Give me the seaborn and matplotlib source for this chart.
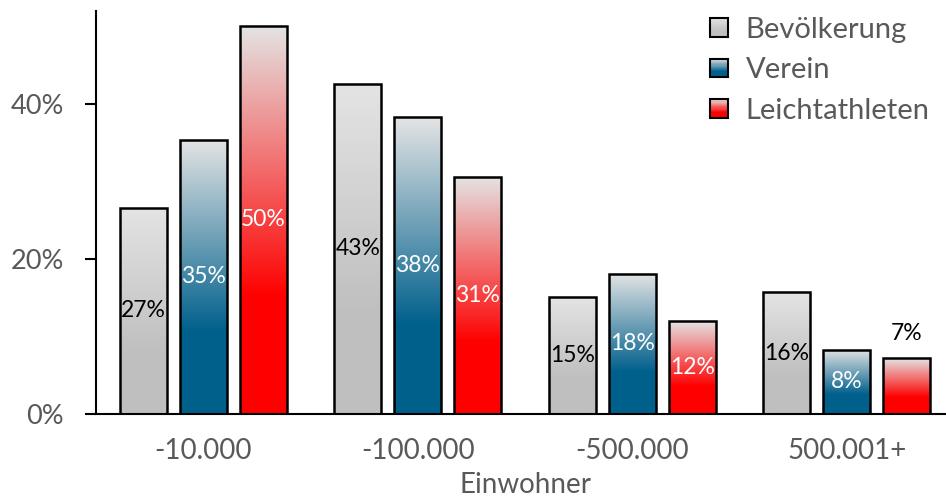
import numpy as np
import pandas as pd
import matplotlib
matplotlib.use('Agg')
import matplotlib.pyplot as plt
import matplotlib.colors as mcolors
from matplotlib.patches import Rectangle, Patch
from matplotlib.legend_handler import HandlerBase
import seaborn as sns

# Data (share in %)
categories = ['-10.000', '-100.000', '-500.000', '500.001+']
series = ['Bevölkerung', 'Verein', 'Leichtathleten']
bevoelkerung = [26.6, 42.6, 15.1, 15.7]
verein = [35.4, 38.3, 18.1, 8.3]
leichtathleten = [50.1, 30.6, 12.0, 7.2]

colors = ['#bfbfbf', '#00608c', '#ff0000']
label_colors = ['black', 'white', 'white']
top_color = np.array(mcolors.to_rgb('#e4e4e4'))
grey_text = '#595959'

sns.set_style('white')
plt.rcParams['font.family'] = ['Lato', 'DejaVu Sans']

df = pd.DataFrame({
    'Einwohner': categories * 3,
    'Anteil': bevoelkerung + verein + leichtathleten,
    'Gruppe': [s for s in series for _ in categories],
})


def gradient_color(base, t):
    """t = 0 at bottom, 1 at top; solid bottom ~30%, then fade to light grey"""
    base = np.array(mcolors.to_rgb(base))
    f = np.clip((t - 0.3) / 0.7, 0, 1)
    return base * (1 - f) + top_color * f


class GradientHandler(HandlerBase):
    def create_artists(self, legend, orig_handle, xdescent, ydescent,
                       width, height, fontsize, trans):
        c = orig_handle.get_facecolor()
        n = 16
        arts = []
        for i in range(n):
            t = (i + 0.5) / n
            arts.append(Rectangle((-xdescent, -ydescent + height * i / n), width, height / n,
                                  facecolor=gradient_color(c, t), edgecolor='none',
                                  transform=trans))
        arts.append(Rectangle((-xdescent, -ydescent), width, height, facecolor='none',
                              edgecolor='black', lw=1.5, transform=trans))
        return arts


fig = plt.figure(figsize=(9.46, 4.97), dpi=100)
ax = fig.add_axes([96 / 946, 83 / 497, 858 / 946, 403 / 497])

sns.barplot(data=df, x='Einwohner', y='Anteil', hue='Gruppe', palette=colors,
            width=0.84, gap=0.22, edgecolor='black', linewidth=1.8,
            legend=False, ax=ax)

ax.set_xlim(-0.5, 3.5)
ax.set_ylim(0, 52)

# gradient fills clipped to each bar
grad_n = 256
tt = np.linspace(0, 1, grad_n)
for container, col in zip(ax.containers, colors):
    img = np.array([gradient_color(col, t) for t in tt]).reshape(grad_n, 1, 3)
    for bar in container:
        x, w, h = bar.get_x(), bar.get_width(), bar.get_height()
        im = ax.imshow(img, extent=[x, x + w, 0, h], origin='lower',
                       aspect='auto', zorder=bar.get_zorder() - 0.1,
                       interpolation='bilinear')
        im.set_clip_path(bar)
        bar.set_facecolor('none')

ax.set_xlim(-0.5, 3.5)
ax.set_ylim(0, 52)
ax.set_aspect('auto')

# value labels
for container, vals, lc in zip(ax.containers, [bevoelkerung, verein, leichtathleten], label_colors):
    inside = [f'{v:.0f}%' if v >= 8 else '' for v in vals]
    outside = [f'{v:.0f}%' if v < 8 else '' for v in vals]
    ax.bar_label(container, labels=inside, label_type='center', color=lc, fontsize=16.5)
    ax.bar_label(container, labels=outside, label_type='edge', color='black',
                 fontsize=16.5, padding=10)

ax.set_yticks([0, 20, 40])
ax.set_yticklabels(['0%', '20%', '40%'])
ax.set_xticks(range(len(categories)))
ax.set_xticklabels(categories)
ax.set_xticks([-0.5, 0.5, 1.5, 2.5, 3.5], minor=True)
ax.tick_params(axis='x', which='major', length=0, pad=17, labelsize=20, labelcolor=grey_text)
ax.tick_params(axis='x', which='minor', length=8, width=1.5, direction='out', color='black')
ax.tick_params(axis='y', which='major', length=8, width=1.5, direction='out',
               pad=15, labelsize=19.5, labelcolor=grey_text, color='black', left=True)
ax.set_xlabel('Einwohner', fontsize=20, color=grey_text, labelpad=6)
ax.set_ylabel('')

for side in ['top', 'right']:
    ax.spines[side].set_visible(False)
for side in ['left', 'bottom']:
    ax.spines[side].set_color('black')
    ax.spines[side].set_linewidth(1.5)

handles = [Patch(facecolor=c) for c in colors]
leg = ax.legend(handles, series, handler_map={Patch: GradientHandler()},
                loc='upper right', bbox_to_anchor=(0.995, 0.99),
                bbox_transform=fig.transFigure, frameon=False, fontsize=21,
                handlelength=0.62, handleheight=0.62, handletextpad=0.6,
                labelspacing=0.5, borderaxespad=0)
for t in leg.get_texts():
    t.set_color(grey_text)

fig.savefig('out.png', dpi=100)
